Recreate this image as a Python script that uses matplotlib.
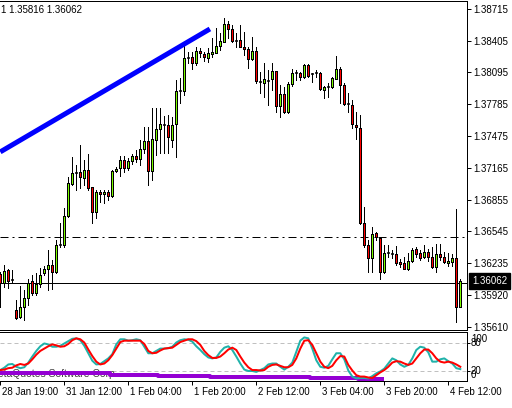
import numpy as np
import matplotlib.pyplot as plt
from matplotlib.patches import Rectangle
from matplotlib.transforms import ScaledTranslation, blended_transform_factory

plt.rcParams['font.family'] = ['Liberation Sans Narrow', 'Liberation Sans']
plt.rcParams['font.size'] = 7

# H1 bars, 28 Jan 19:00 .. 4 Feb 15:00
opens = [1.36128, 1.36040, 1.36167, 1.36069, 1.35776, 1.35708, 1.35805, 1.35893,
         1.36059, 1.35942, 1.36030, 1.36137, 1.36176, 1.36215, 1.36147, 1.36411,
         1.36411, 1.36694, 1.37006, 1.37114, 1.37123, 1.37065, 1.37143, 1.36977,
         1.36733, 1.36928, 1.36909, 1.36928, 1.36889, 1.37133, 1.37162, 1.37241,
         1.37162, 1.37231, 1.37280, 1.37250, 1.37348, 1.37426, 1.37133, 1.37436,
         1.37543, 1.37592, 1.37582, 1.37436, 1.37592, 1.37914, 1.37914, 1.38237,
         1.38246, 1.38188, 1.38305, 1.38276, 1.38237, 1.38276, 1.38285, 1.38354,
         1.38393, 1.38569, 1.38520, 1.38403, 1.38412, 1.38344, 1.38324, 1.38227,
         1.38305, 1.38002, 1.37992, 1.38012, 1.38032, 1.38110, 1.37768, 1.37885,
         1.37709, 1.37983, 1.38090, 1.38090, 1.38051, 1.38168, 1.38080, 1.38090,
         1.38090, 1.37924, 1.37953, 1.37953, 1.38032, 1.38129, 1.37973, 1.37787,
         1.37778, 1.37582, 1.37553, 1.36626, 1.36411, 1.36284, 1.36528, 1.36479,
         1.36147, 1.36333, 1.36323, 1.36323, 1.36245, 1.36235, 1.36176, 1.36254,
         1.36372, 1.36333, 1.36294, 1.36342, 1.36294, 1.36196, 1.36323, 1.36294,
         1.36235, 1.36245, 1.36284, 1.35805]
highs = [1.36147, 1.36215, 1.36176, 1.36167, 1.35874, 1.36010, 1.35971, 1.36079,
         1.36118, 1.36137, 1.36186, 1.36206, 1.36362, 1.36264, 1.36460, 1.36626,
         1.36772, 1.37075, 1.37270, 1.37192, 1.37387, 1.37241, 1.37299, 1.36977,
         1.36948, 1.36948, 1.36948, 1.36948, 1.37143, 1.37172, 1.37280, 1.37280,
         1.37260, 1.37299, 1.37338, 1.37436, 1.37563, 1.37563, 1.37748, 1.37748,
         1.37748, 1.37670, 1.37680, 1.37661, 1.38022, 1.38041, 1.38354, 1.38295,
         1.38295, 1.38344, 1.38334, 1.38295, 1.38334, 1.38432, 1.38530, 1.38481,
         1.38627, 1.38598, 1.38559, 1.38481, 1.38559, 1.38490, 1.38344, 1.38442,
         1.38344, 1.38100, 1.38188, 1.38119, 1.38188, 1.38110, 1.37973, 1.37953,
         1.38002, 1.38129, 1.38119, 1.38100, 1.38178, 1.38178, 1.38090, 1.38119,
         1.38100, 1.37963, 1.37992, 1.38051, 1.38256, 1.38149, 1.37992, 1.37895,
         1.37826, 1.37709, 1.37680, 1.36782, 1.36460, 1.36586, 1.36538, 1.36479,
         1.36411, 1.36411, 1.36362, 1.36401, 1.36274, 1.36294, 1.36333, 1.36381,
         1.36391, 1.36362, 1.36411, 1.36372, 1.36391, 1.36420, 1.36420, 1.36342,
         1.36333, 1.36323, 1.36762, 1.36079]
lows = [1.35805, 1.36001, 1.35991, 1.36050, 1.35688, 1.35698, 1.35678, 1.35825,
        1.35922, 1.35922, 1.36001, 1.36118, 1.35971, 1.35981, 1.36137, 1.36391,
        1.36391, 1.36684, 1.36997, 1.36948, 1.36967, 1.36997, 1.36948, 1.36626,
        1.36674, 1.36831, 1.36821, 1.36850, 1.36879, 1.37123, 1.37084, 1.37123,
        1.37143, 1.37202, 1.37221, 1.37192, 1.37309, 1.36997, 1.37045, 1.37289,
        1.37309, 1.37309, 1.37309, 1.37368, 1.37270, 1.37797, 1.37875, 1.38188,
        1.38129, 1.38168, 1.38246, 1.38207, 1.38198, 1.38246, 1.38285, 1.38315,
        1.38393, 1.38432, 1.38393, 1.38344, 1.38344, 1.38266, 1.38139, 1.38217,
        1.37992, 1.37895, 1.37856, 1.37778, 1.37924, 1.37709, 1.37661, 1.37700,
        1.37700, 1.37963, 1.38022, 1.38022, 1.38041, 1.38051, 1.38002, 1.38051,
        1.37924, 1.37846, 1.37856, 1.37944, 1.38032, 1.37797, 1.37778, 1.37709,
        1.37553, 1.37446, 1.36616, 1.36391, 1.36147, 1.36147, 1.36460, 1.36079,
        1.36137, 1.36294, 1.36284, 1.36215, 1.36196, 1.36176, 1.36167, 1.36245,
        1.36294, 1.36264, 1.36284, 1.36254, 1.36186, 1.36147, 1.36264, 1.36235,
        1.36206, 1.36206, 1.35659, 1.35816]
closes = [1.36040, 1.36157, 1.36059, 1.36079, 1.35698, 1.35805, 1.35893, 1.36040,
          1.35942, 1.36030, 1.36118, 1.36176, 1.36215, 1.36147, 1.36411, 1.36420,
          1.36694, 1.37016, 1.37114, 1.37110, 1.37075, 1.37143, 1.36967, 1.36733,
          1.36928, 1.36909, 1.36928, 1.36889, 1.37133, 1.37153, 1.37241, 1.37162,
          1.37231, 1.37280, 1.37250, 1.37348, 1.37426, 1.37133, 1.37446, 1.37543,
          1.37592, 1.37582, 1.37465, 1.37582, 1.37914, 1.37905, 1.38237, 1.38230,
          1.38188, 1.38305, 1.38285, 1.38246, 1.38285, 1.38295, 1.38354, 1.38403,
          1.38569, 1.38520, 1.38403, 1.38398, 1.38344, 1.38324, 1.38227, 1.38305,
          1.38012, 1.37998, 1.38032, 1.38008, 1.38110, 1.37768, 1.37885, 1.37709,
          1.37983, 1.38090, 1.38086, 1.38051, 1.38168, 1.38061, 1.38076, 1.38094,
          1.37934, 1.37953, 1.37949, 1.38041, 1.38129, 1.37973, 1.37787, 1.37783,
          1.37592, 1.37563, 1.36626, 1.36411, 1.36284, 1.36518, 1.36489, 1.36147,
          1.36333, 1.36328, 1.36319, 1.36235, 1.36225, 1.36176, 1.36254, 1.36362,
          1.36323, 1.36284, 1.36342, 1.36294, 1.36196, 1.36323, 1.36294, 1.36245,
          1.36254, 1.36284, 1.35805, 1.36062]

# stochastic main / signal
stoch_main = [22, 27, 34, 35, 29, 26, 28, 38, 51, 63, 73, 79, 77, 72, 72, 74,
              79, 84, 89, 90, 86, 74, 58, 42, 34, 35, 41, 47, 56, 77, 88, 88,
              85, 86, 88, 86, 72, 58, 58, 63, 68, 68, 69, 72, 81, 86, 88, 87,
              83, 73, 65, 56, 49, 47, 49, 61, 70, 73, 65, 51, 36, 23, 20, 20,
              18, 22, 26, 34, 36, 36, 29, 23, 29, 38, 61, 85, 92, 90, 68, 43,
              29, 27, 31, 45, 58, 58, 45, 21, 8, 4, 5, 5, 4, 9, 15, 19,
              25, 36, 47, 43, 34, 29, 33, 47, 65, 72, 70, 60, 40, 40, 45, 47,
              41, 36, 26, 24]
stoch_signal = [22, 23, 26, 27, 32, 35, 33, 36, 45, 55, 63, 68, 73, 77, 75, 72,
                73, 78, 86, 90, 88, 81, 66, 52, 40, 34, 36, 43, 54, 68, 82, 85,
                85, 85, 85, 85, 78, 63, 58, 59, 64, 68, 69, 70, 76, 82, 85, 88,
                88, 84, 76, 63, 54, 48, 48, 51, 58, 66, 70, 65, 51, 38, 28, 22,
                22, 21, 22, 29, 33, 34, 31, 28, 28, 33, 47, 68, 85, 86, 76, 58,
                40, 29, 26, 31, 43, 52, 51, 33, 21, 11, 8, 8, 6, 5, 11, 17,
                22, 29, 38, 41, 40, 36, 33, 36, 47, 58, 66, 66, 58, 47, 40, 38,
                40, 38, 34, 29]
# stepped purple line: level and number of bars at that level
purple_levels = [16, 12, 10, 7, 4, 2]
purple_counts = [28, 12, 13, 25, 12, 7]

price_ticks = [1.38715, 1.38405, 1.38095, 1.37785, 1.37475, 1.37165,
               1.36855, 1.36545, 1.36235, 1.35920, 1.35610]
time_bars = [0, 16, 32, 48, 64, 80, 96, 112]
time_labels = ['28 Jan 19:00', '31 Jan 12:00', '1 Feb 04:00', '1 Feb 20:00',
               '2 Feb 12:00', '3 Feb 04:00', '3 Feb 20:00', '4 Feb 12:00']
trend_bars = [0, 52.4]
trend_prices = [1.37320, 1.38520]
solid_level = 1.36040
dashdot_level = 1.36490
header = '1 1.35816 1.36062'

W, H = 512, 408
px = 0.72  # one pixel in points
up_col = '#7CFC00'
down_col = '#FF0000'

fig = plt.figure(figsize=(W / 100, H / 100), dpi=100)
ax = fig.add_axes([0, 1 - 330 / H, 467 / W, 329 / H])
ax2 = fig.add_axes([0, 1 - 381 / H, 467 / W, 49 / H])

bars = np.arange(len(opens))

# candles
ax.vlines(bars, lows, highs, color='black', lw=px, antialiased=False, zorder=2)
for k in bars:
    o, c = opens[k], closes[k]
    if abs(c - o) < 0.00012:
        ax.hlines((o + c) / 2, k - 0.375, k + 0.375, color='black', lw=1.5 * px, zorder=3)
    else:
        ax.add_patch(Rectangle((k - 0.25, min(o, c)), 0.5, abs(c - o),
                               facecolor=up_col if c > o else down_col,
                               edgecolor='black', lw=px, zorder=3, antialiased=False))

ax.axhline(solid_level, color='black', lw=px, zorder=1)
ax.axhline(dashdot_level, color='black', lw=px, dashes=(8, 4, 2, 4), zorder=1)
ax.plot(trend_bars, trend_prices, color='#0000FF', lw=5 * px, solid_capstyle='butt', zorder=4)

ax.set_xlim(-0.075, 116.675)
ax.set_ylim(1.35581, 1.38793)
ax.set_xticks([])
ax.yaxis.tick_right()
ax.set_yticks(price_ticks)
ax.set_yticklabels([f'{p:.5f}' for p in price_ticks])
ax.tick_params(axis='y', length=4 * px, width=px, pad=2 * px, labelsize=7)
ax.spines['left'].set_visible(False)
for s in ['top', 'right', 'bottom']:
    ax.spines[s].set_linewidth(px)

# bid box
bt = blended_transform_factory(ax.transAxes, ax.transData)
ax.text(1.0, closes[-1], f'{closes[-1]:.5f}', color='white', ha='left', va='center',
        transform=bt + ScaledTranslation(5 / 100, 0, fig.dpi_scale_trans),
        bbox=dict(boxstyle='square,pad=0.3', fc='black', ec='black'), clip_on=False, zorder=5)

fig.text(1 / W, 1 - 10 / H, header, ha='left', va='center', fontsize=7)

# indicator window
purple = np.repeat(purple_levels, purple_counts)
ax2.plot(bars[:len(purple)], purple, color='#9400D3', lw=4 * px, drawstyle='steps-mid',
         solid_capstyle='butt', zorder=2)
ax2.plot(bars, stoch_main, color='#20B2AA', lw=2 * px, zorder=3)
ax2.plot(bars, stoch_signal, color='#FF0000', lw=2 * px, zorder=4)
ax2.axhline(80, color='#C0C0C0', lw=px, dashes=(4, 3), zorder=1)
ax2.axhline(20, color='#C0C0C0', lw=px, dashes=(4, 3), zorder=1)
ax2.text(0, 14, 'MetaQuotes Software Corp.', color='#404040', ha='left', va='center', fontsize=7.5,
         transform=blended_transform_factory(ax2.transAxes, ax2.transData)
         + ScaledTranslation(-11 / 100, 0, fig.dpi_scale_trans), zorder=1)

ax2.set_xlim(-0.075, 116.675)
ax2.set_ylim(-1.5, 103.6)
ax2.yaxis.tick_right()
ax2.set_yticks([20, 80])
ax2.set_yticklabels([])
ax2.tick_params(axis='y', length=3 * px, width=px)
bt2 = blended_transform_factory(ax2.transAxes, ax2.transData) + ScaledTranslation(4 / 100, 0, fig.dpi_scale_trans)
for lvl, va in [(100, 'top'), (80, 'center'), (20, 'center'), (0, 'bottom')]:
    ax2.text(1.0, lvl, str(lvl), ha='left', va=va, transform=bt2, clip_on=False, fontsize=7)

ax2.set_xticks(time_bars)
ax2.set_xticklabels(time_labels)
ax2.tick_params(axis='x', length=4 * px, width=px, pad=2 * px, labelsize=7)
for lab in ax2.get_xticklabels():
    lab.set_horizontalalignment('left')
    lab.set_transform(lab.get_transform() + ScaledTranslation(2 / 100, 0, fig.dpi_scale_trans))
ax2.spines['left'].set_visible(False)
for s in ['top', 'right', 'bottom']:
    ax2.spines[s].set_linewidth(px)

fig.savefig('out.png', dpi=100)
